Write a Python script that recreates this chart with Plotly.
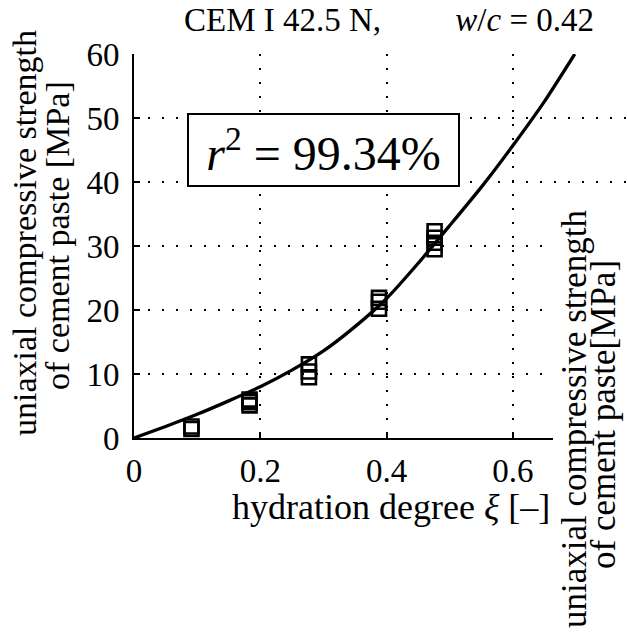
import plotly.graph_objects as go

# Measured paste strengths, grouped by hydration degree (several specimens each)
xi_meas = [0.091, 0.091,
           0.183, 0.183, 0.183,
           0.277, 0.277, 0.277,
           0.388, 0.388, 0.388,
           0.476, 0.476, 0.476, 0.476]
fc_meas = [1.4, 1.8,
           5.1, 5.6, 6.0,
           9.5, 10.4, 11.5,
           20.2, 21.3, 21.9,
           29.5, 30.5, 31.3, 32.3]

# Fitted strength-hydration relation
xi_fit = [0.0, 0.05, 0.10, 0.15, 0.20, 0.25, 0.30, 0.35, 0.40, 0.45, 0.50, 0.55, 0.60, 0.65, 0.698]
fc_fit = [0.0, 1.8, 3.7, 5.8, 8.0, 10.6, 13.6, 17.4, 21.8, 27.3, 33.2, 39.2, 45.7, 52.6, 60.0]

x_ticks = [0, 0.2, 0.4, 0.6]
x_ticktext = ["0", "0.2", "0.4", "0.6"]
y_ticks = [0, 10, 20, 30, 40, 50, 60]

FONT = "Liberation Serif"
W, H = 627, 632
ML, MR, MT, MB = 134, 0, 54, 194
PW, PH = W - ML - MR, H - MT - MB


def px(xp):
    return (xp - ML) / PW


def py(yp):
    return (H - MB - yp) / PH


fig = go.Figure()
fig.add_trace(go.Scatter(
    x=xi_meas, y=fc_meas, mode="markers",
    marker=dict(symbol="square-open", size=14, color="black", line=dict(width=2.6)),
    cliponaxis=False, showlegend=False,
))
fig.add_trace(go.Scatter(
    x=xi_fit, y=fc_fit, mode="lines",
    line=dict(color="black", width=3.3, shape="spline", smoothing=0.6),
    showlegend=False,
))

axis_common = dict(
    showline=True, linecolor="black", linewidth=2,
    ticks="inside", ticklen=6, tickwidth=1.5, tickcolor="black",
    showgrid=True, gridcolor="black", gridwidth=1.5, griddash="2px,12px",
    zeroline=False, tickfont=dict(family=FONT, size=33, color="black"),
)

fig.update_layout(
    width=W, height=H,
    margin=dict(l=ML, r=MR, t=MT, b=MB),
    paper_bgcolor="white", plot_bgcolor="white",
    xaxis=dict(range=[0, PW / 631.5], tickvals=x_ticks, ticktext=x_ticktext,
               ticklabelstandoff=2, **axis_common),
    yaxis=dict(range=[0, 60], tickvals=y_ticks, ticklabelstandoff=6, **axis_common),
    shapes=[dict(type="rect", xref="paper", yref="paper",
                 x0=px(553), x1=1.05, y0=-0.6, y1=py(205),
                 fillcolor="white", line=dict(width=0), layer="above")],
)

ann_font = dict(family=FONT, size=35, color="black")
fig.add_annotation(text="CEM I 42.5 N,\u2003\u2003 <i>w</i>/<i>c</i> = 0.42",
                   x=px(389), y=py(0), xref="paper", yref="paper",
                   showarrow=False, xanchor="center", yanchor="top",
                   font=dict(family=FONT, size=33, color="black"))
fig.add_annotation(text="<i>r</i><sup>2</sup> = 99.34%",
                   x=px(323.5), y=py(150), xref="paper", yref="paper",
                   showarrow=False, xanchor="center", yanchor="middle",
                   width=265, height=66, borderpad=2,
                   bgcolor="white", bordercolor="black", borderwidth=2,
                   font=dict(family=FONT, size=48, color="black"))
fig.add_annotation(text="hydration degree <i>ξ</i> [–]",
                   x=px(391), y=py(507), xref="paper", yref="paper",
                   showarrow=False, xanchor="center", yanchor="middle",
                   font=dict(family=FONT, size=36, color="black"))
fig.add_annotation(text="uniaxial compressive strength",
                   x=px(24), y=py(233), xref="paper", yref="paper", textangle=-90,
                   showarrow=False, xanchor="center", yanchor="middle",
                   font=dict(family=FONT, size=34, color="black"))
fig.add_annotation(text="of cement paste [MPa]",
                   x=px(57), y=py(236), xref="paper", yref="paper", textangle=-90,
                   showarrow=False, xanchor="center", yanchor="middle",
                   font=dict(family=FONT, size=34, color="black"))
fig.add_annotation(text="uniaxial compressive strength",
                   x=px(574), y=py(419), xref="paper", yref="paper", textangle=-90,
                   showarrow=False, xanchor="center", yanchor="middle", font=ann_font)
fig.add_annotation(text="of cement paste[MPa]",
                   x=px(603), y=py(415), xref="paper", yref="paper", textangle=-90,
                   showarrow=False, xanchor="center", yanchor="middle", font=ann_font)

fig.write_html("out.html")
